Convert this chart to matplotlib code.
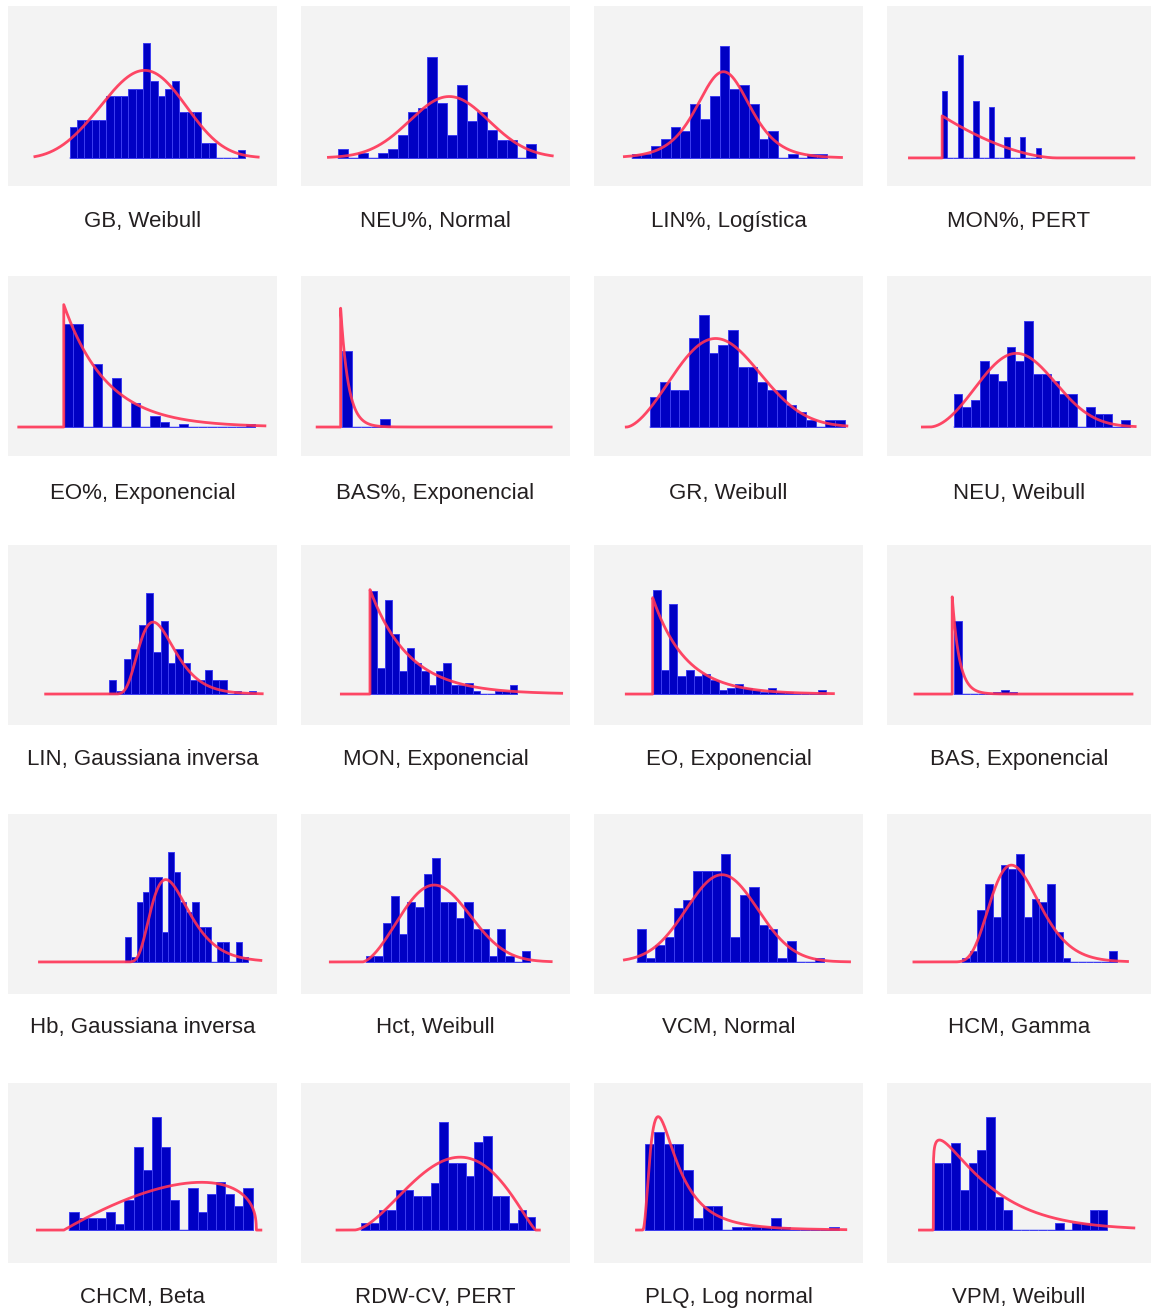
import numpy as np
import matplotlib
matplotlib.use("Agg")
from matplotlib import pyplot as plt

# panel titles (variable, fitted distribution)
labels = [
    "GB, Weibull", "NEU%, Normal", "LIN%, Logística", "MON%, PERT",
    "EO%, Exponencial", "BAS%, Exponencial", "GR, Weibull", "NEU, Weibull",
    "LIN, Gaussiana inversa", "MON, Exponencial", "EO, Exponencial", "BAS, Exponencial",
    "Hb, Gaussiana inversa", "Hct, Weibull", "VCM, Normal", "HCM, Gamma",
    "CHCM, Beta", "RDW-CV, PERT", "PLQ, Log normal", "VPM, Weibull",
]

# histogram counts per bin (bin index = x)
counts = [
    [4, 5, 5, 5, 5, 8, 8, 8, 9, 9, 15, 10, 8, 9, 10, 6, 6, 6, 2, 2, 0, 0, 0, 1],
    [2, 0, 1, 0, 1, 2, 5, 10, 11, 22, 12, 5, 16, 8, 10, 6, 4, 4, 0, 3],
    [1, 1, 3, 5, 8, 7, 14, 10, 16, 29, 18, 19, 14, 5, 7, 0, 1, 0, 1, 1],
    [13, 0, 0, 20, 0, 0, 11, 0, 0, 10, 0, 0, 4, 0, 0, 4, 0, 0, 2],
    [38, 38, 0, 23, 0, 18, 0, 9, 0, 4, 2, 0, 1, 0, 0, 0, 0, 0, 0, 1],
    [10, 0, 0, 0, 1],
    [4, 6, 5, 5, 12, 15, 10, 11, 13, 8, 8, 6, 5, 5, 3, 2, 1, 0, 1, 1],
    [5, 3, 4, 10, 8, 7, 12, 10, 16, 8, 8, 7, 5, 5, 0, 3, 2, 2, 0, 1],
    [4, 1, 10, 13, 20, 29, 12, 21, 9, 13, 9, 4, 4, 7, 4, 4, 0, 1, 0, 1],
    [36, 9, 33, 21, 8, 16, 11, 8, 3, 8, 11, 3, 3, 4, 1, 0, 0, 1, 1, 3],
    [52, 12, 45, 9, 12, 9, 10, 7, 2, 3, 5, 3, 2, 1, 3, 1, 1, 0, 0, 0, 2],
    [40, 0, 0, 0, 0, 1, 2, 1],
    [5, 1, 12, 14, 17, 17, 6, 22, 18, 12, 10, 12, 7, 7, 0, 4, 4, 0, 4, 1],
    [1, 1, 7, 12, 5, 11, 10, 16, 19, 11, 11, 8, 11, 6, 6, 1, 6, 1, 0, 2],
    [8, 1, 4, 6, 13, 15, 22, 22, 22, 26, 6, 16, 18, 9, 8, 1, 5, 0, 0, 1],
    [1, 3, 14, 21, 12, 26, 25, 29, 12, 17, 16, 21, 8, 1, 0, 0, 0, 0, 0, 3],
    [3, 2, 2, 2, 3, 1, 5, 14, 10, 19, 14, 5, 0, 7, 3, 6, 8, 6, 4, 7],
    [1, 1, 3, 3, 6, 6, 5, 5, 7, 16, 10, 10, 8, 13, 14, 5, 5, 1, 3, 2],
    [29, 33, 29, 29, 20, 4, 8, 8, 0, 1, 1, 1, 1, 4, 1, 0, 0, 0, 0, 1],
    [10, 10, 13, 6, 10, 12, 17, 5, 3, 0, 0, 0, 0, 0, 1, 0, 1, 1, 3, 3],
]

# x range over which the fitted curve is drawn (bin units)
curve_span = [
    (-4.75, 25.75), (-1.0, 21.6), (-0.75, 21.5), (-6.3, 36.9),
    (-4.7, 21.0), (-2.6, 21.8), (-2.45, 20.2), (-3.55, 20.6),
    (-8.65, 20.85), (-3.9, 26.1), (-3.2, 21.9), (-4.9, 22.5),
    (-13.8, 22.1), (-4.4, 22.6), (-1.3, 22.7), (-6.2, 21.4),
    (-3.5, 20.9), (-2.8, 20.5), (-0.83, 20.7), (-1.7, 23.1),
]

# fitted distributions: kind, parameters (bin units), peak height (counts)
fit_kind = [
    "weibull", "normal", "logistic", "beta",
    "expon", "expon", "weibull", "weibull",
    "invgauss", "expon", "expon", "expon",
    "invgauss", "weibull", "normal", "gamma",
    "beta", "beta", "lognorm", "weibull",
]
fit_params = [
    (-7.4, 19.3, 3.6), (11.2, 4.0), (9.4, 1.82), (0.0, 22.0, 1.0, 2.7),
    (0.0, 4.5), (-0.15, 0.8), (-2.4, 11.0, 2.6), (-2.7, 11.5, 2.8),
    (-1.1, 8.5, 70.0), (0.0, 5.3), (0.0, 4.0), (-0.2, 0.9),
    (-1.3, 10.0, 66.0), (-0.5, 10.6, 2.6), (9.1, 3.8), (-2.0, 8.0, 1.2),
    (-0.6, 20.4, 2.0, 1.4), (-0.85, 20.1, 2.75, 2.25), (-0.3, 1.093, 0.75), (-0.1, 6.3, 1.1),
]
fit_peak = [
    11.4, 13.4, 22.4, 8.2,
    45.0, 15.7, 11.9, 11.1,
    20.7, 36.5, 48.0, 53.0,
    16.5, 14.0, 21.0, 26.0,
    8.0, 10.8, 38.0, 13.5,
]

# layout: where the curve span sits inside each panel (fraction of width)
span_frac = [
    (0.10, 0.93), (0.102, 0.934), (0.113, 0.92), (0.085, 0.935),
    (0.04, 0.955), (0.06, 0.93), (0.12, 0.94), (0.134, 0.94),
    (0.14, 0.945), (0.15, 0.969), (0.12, 0.89), (0.106, 0.928),
    (0.117, 0.94), (0.109, 0.93), (0.113, 0.95), (0.102, 0.911),
    (0.109, 0.94), (0.134, 0.886), (0.158, 0.936), (0.123, 0.935),
]
# layout: height of the tallest mark as fraction of panel height
fill_frac = [
    0.64, 0.56, 0.62, 0.57,
    0.68, 0.66, 0.62, 0.59,
    0.56, 0.58, 0.58, 0.54,
    0.61, 0.58, 0.60, 0.60,
    0.63, 0.60, 0.63, 0.63,
]


def shape(kind, p, x):
    y = np.zeros_like(x)
    if kind == "normal":
        mu, s = p
        y = np.exp(-0.5 * ((x - mu) / s) ** 2)
    elif kind == "logistic":
        mu, s = p
        z = np.exp(-(x - mu) / s)
        y = z / (1 + z) ** 2
    elif kind == "weibull":
        loc, lam, k = p
        m = x > loc
        u = (x[m] - loc) / lam
        y[m] = u ** (k - 1) * np.exp(-(u ** k))
    elif kind == "expon":
        loc, s = p
        m = x >= loc
        y[m] = np.exp(-(x[m] - loc) / s)
    elif kind == "gamma":
        loc, k, th = p
        m = x > loc
        u = x[m] - loc
        y[m] = u ** (k - 1) * np.exp(-u / th)
    elif kind == "lognorm":
        loc, mu, s = p
        m = x > loc
        u = x[m] - loc
        y[m] = np.exp(-((np.log(u) - mu) ** 2) / (2 * s * s)) / u
    elif kind == "invgauss":
        loc, mu, lam = p
        m = x > loc
        u = x[m] - loc
        y[m] = u ** -1.5 * np.exp(-lam * (u - mu) ** 2 / (2 * mu * mu * u))
    elif kind == "beta":
        lo, hi, a, b = p
        t = (x - lo) / (hi - lo)
        m = (t >= 0) & (t < 1)
        y[m] = np.power(t[m], a - 1) * np.power(1 - t[m], b - 1)
    return y


W, H = 1151, 1309
fig = plt.figure(figsize=(W / 100, H / 100), dpi=100)

col_x = [8, 301, 594, 887]
col_w = [269, 269, 269, 264]
row_y = [6, 276, 545, 814, 1083]
row_h = 180
label_y = [221, 494, 759, 1028, 1297]
base_frac = [0.156, 0.161, 0.172, 0.178, 0.183]

for i in range(20):
    r, c = divmod(i, 4)
    ax = fig.add_axes([col_x[c] / W, 1 - (row_y[r] + row_h) / H, col_w[c] / W, row_h / H])
    ax.set_facecolor("#f3f3f3")
    for s in ax.spines.values():
        s.set_visible(False)
    ax.set_xticks([]), ax.set_yticks([])

    cnt = np.array(counts[i], dtype=float)
    lo, hi = curve_span[i]
    fl, fh = span_frac[i]
    span = (hi - lo) / (fh - fl)
    xmin = lo - fl * span
    ax.set_xlim(xmin, xmin + span)

    # fitted curve
    x = np.linspace(lo, hi, 900)
    p = fit_params[i]
    if fit_kind[i] == "expon":
        x = np.union1d(x, [p[0] - 1e-6, p[0]])
    elif fit_kind[i] == "beta":
        x = np.union1d(x, [p[0] - 1e-6, p[0], p[1] - 1e-6, p[1]])
    y = shape(fit_kind[i], p, x)
    y = y / y.max() * fit_peak[i]

    top = max(cnt.max(), fit_peak[i])
    bf, ff = base_frac[r], fill_frac[i]
    ax.set_ylim(-bf / ff * top, (1 - bf) / ff * top)

    ax.plot([0, len(cnt)], [0, 0], color="#b8bcf5", lw=1.2, zorder=1)
    ax.bar(np.arange(len(cnt)), cnt, width=1, align="edge",
           color="#0000c4", edgecolor="#3c3cf0", lw=0.7, zorder=2)
    ax.plot(x, y, color="#ff3355", lw=2, alpha=0.9, zorder=3,
            solid_joinstyle="round")

    fig.text((col_x[c] + col_w[c] / 2) / W, 1 - label_y[r] / H, labels[i],
             ha="center", va="center", fontsize=16,
             family=["Liberation Sans", "DejaVu Sans"], color="#231f20")

fig.savefig("out.png", dpi=100, facecolor="white")
